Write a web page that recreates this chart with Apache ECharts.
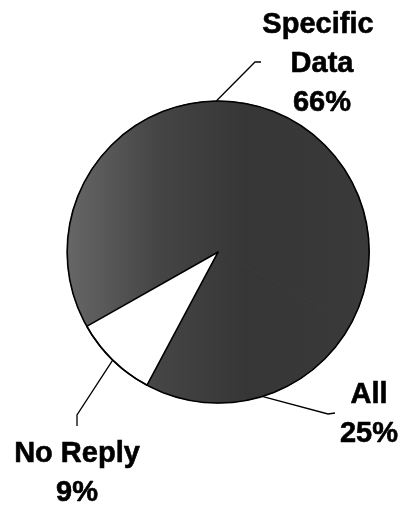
<!DOCTYPE html>
<html><head><meta charset="utf-8">
<script src="https://cdn.jsdelivr.net/npm/echarts@6/dist/echarts.min.js"></script>
<style>html,body{margin:0;padding:0;background:#fff}#c{width:404px;height:506px}</style>
</head><body><div id="c"></div>
<script>
// ---- data ----
const categories = ['Specific Data', 'All', 'No Reply'];
const values = [66, 25, 9];

// ---- layout / style (kept apart from data) ----
const labelPos = [
  { x: 322, y: 64,  elbow: [255, 62],  end: [261, 62],  width: 120 },
  { x: 369, y: 414, elbow: [328, 414], end: [335, 413], width: 140 },
  { x: 77,  y: 473, elbow: [77, 415],  end: [77, 426],  width: 160 }
];
const darkFill = new echarts.graphic.LinearGradient(68, 0, 366, 0, [
  { offset: 0, color: '#666666' },
  { offset: 0.3, color: '#454545' },
  { offset: 0.6, color: '#363636' },
  { offset: 1, color: '#3a3a3a' }
], true);
const sliceStyles = [
  { color: darkFill, borderColor: darkFill, borderWidth: 1 },
  { color: darkFill, borderColor: darkFill, borderWidth: 1 },
  { color: '#ffffff', borderColor: '#000', borderWidth: 1.6 }
];

const chart = echarts.init(document.getElementById('c'), null, { renderer: 'canvas' });
const center = ['54%', '49.8%'];
const radius = 151;

chart.setOption({
  animation: false,
  backgroundColor: '#fff',
  series: [
    {
      type: 'pie',
      center: center,
      radius: radius,
      startAngle: 209.5,
      clockwise: true,
      avoidLabelOverlap: false,
      silent: true,
      data: categories.map((name, i) => ({
        name: name,
        value: values[i],
        itemStyle: sliceStyles[i],
        label: { width: labelPos[i].width, overflow: 'break' }
      })),
      label: {
        show: true,
        position: 'outside',
        formatter: '{b}\n{c}%',
        fontFamily: 'Liberation Sans, Arial, sans-serif',
        fontWeight: 'bold',
        fontSize: 29,
        lineHeight: 39,
        color: '#000',
        textBorderColor: '#000',
        textBorderWidth: 0.6,
        align: 'center'
      },
      labelLine: {
        show: true,
        length: 20,
        length2: 10,
        lineStyle: { color: '#000', width: 1.3 }
      },
      labelLayout: function (params) {
        const p = labelPos[params.dataIndex];
        const start = params.labelLinePoints ? params.labelLinePoints[0] : p.elbow;
        return {
          x: p.x,
          y: p.y,
          align: 'center',
          verticalAlign: 'middle',
          labelLinePoints: [start, p.elbow, p.end]
        };
      }
    },
    {
      type: 'pie',
      center: center,
      radius: radius,
      silent: true,
      z: 5,
      label: { show: false },
      labelLine: { show: false },
      data: [{ value: 1, itemStyle: { color: 'rgba(0,0,0,0)', borderColor: '#000', borderWidth: 1.6 } }]
    }
  ]
});
</script>
</body></html>
